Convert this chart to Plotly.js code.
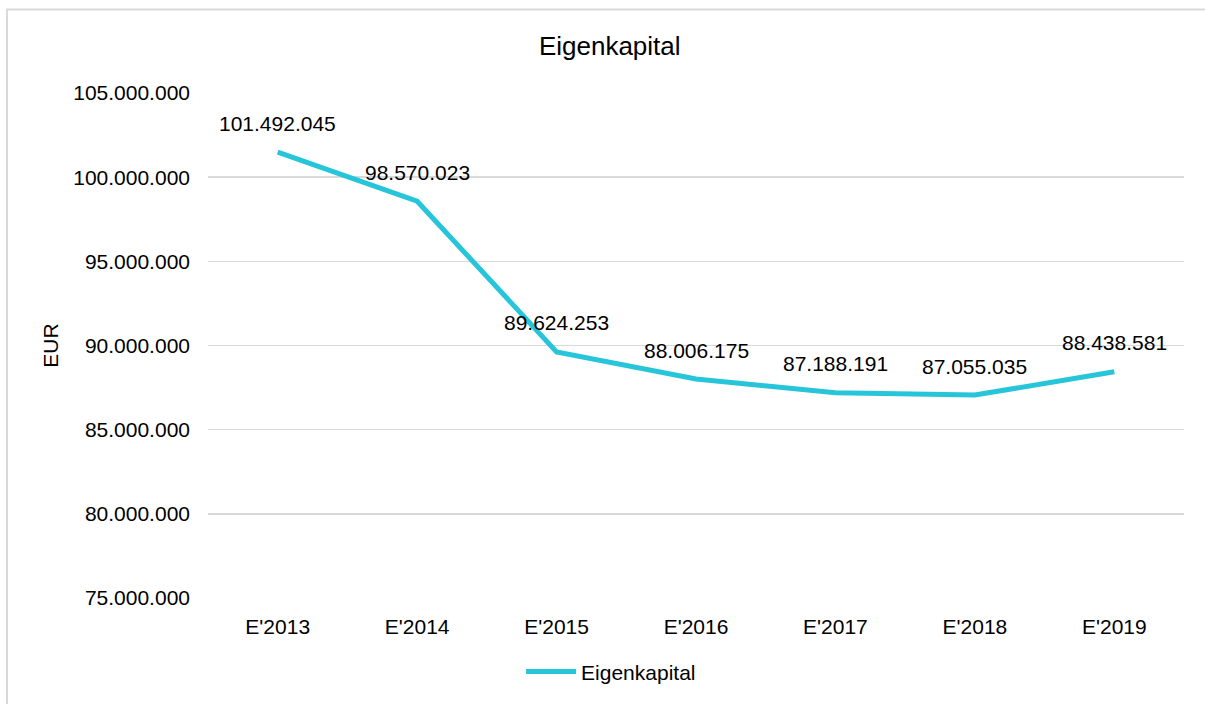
<!DOCTYPE html>
<html>
<head>
<meta charset="utf-8">
<script src="https://cdn.plot.ly/plotly-3.0.1.min.js"></script>
<style>
  html, body { margin: 0; padding: 0; background: #fff; overflow: hidden; }
  #chart { width: 1205px; height: 704px; }
</style>
</head>
<body>
<div id="chart"></div>
<script>
const categories = ["E'2013", "E'2014", "E'2015", "E'2016", "E'2017", "E'2018", "E'2019"];
const eigenkapital = [101492045, 98570023, 89624253, 88006175, 87188191, 87055035, 88438581];
const seriesName = "Eigenkapital";
const chartTitle = "Eigenkapital";
const yTitle = "EUR";

function fmt(v) {
  return String(Math.round(v)).replace(/\B(?=(\d{3})+(?!\d))/g, ".");
}

const font = "Liberation Sans, Arial, sans-serif";
const lineColor = "#27C5DA";

const annotations = categories.map((c, i) => ({
  x: c, y: eigenkapital[i], xref: "x", yref: "y",
  text: fmt(eigenkapital[i]), showarrow: false,
  yshift: 29, font: { family: font, size: 21, color: "#000" }
}));

const trace = {
  x: categories, y: eigenkapital, name: seriesName,
  type: "scatter", mode: "lines",
  line: { color: lineColor, width: 5 },
  hoverinfo: "x+y"
};

const layout = {
  width: 1205, height: 704,
  margin: { l: 208, r: 21, t: 93, b: 103 },
  paper_bgcolor: "#fff", plot_bgcolor: "#fff",
  separators: ",.",
  font: { family: font, size: 21, color: "#000" },
  title: { text: chartTitle, x: 0.506, xanchor: "center", y: 1 - 46/704, yref: "container", yanchor: "middle",
           font: { family: font, size: 26, color: "#000" } },
  xaxis: {
    type: "category", range: [-0.5, 6.5], showgrid: false, zeroline: false, showline: false,
    ticks: "", ticklabelstandoff: 14, tickfont: { size: 21 }
  },
  yaxis: {
    range: [75000000, 105000000], dtick: 5000000, tickformat: ",d",
    showgrid: true, gridcolor: "#d9d9d9", gridwidth: 1.5, zeroline: false, showline: false,
    ticks: "", ticklabelstandoff: 17, tickfont: { size: 21 },
    title: { text: yTitle, standoff: 8, font: { size: 21 } }
  },
  showlegend: true,
  legend: { orientation: "h", x: 0.413, xanchor: "center", y: -0.146, yanchor: "middle",
            font: { size: 21 }, itemwidth: 50 },
  shapes: [{
    type: "rect", xref: "paper", yref: "paper",
    x0: (7 - 208) / 976, x1: 1.3, y0: -0.3, y1: (601 - 9) / 508,
    line: { color: "#d9d9d9", width: 2 }, fillcolor: "rgba(0,0,0,0)", layer: "below"
  }],
  annotations: annotations
};

Plotly.newPlot("chart", [trace], layout, { displayModeBar: false, staticPlot: true });
</script>
</body>
</html>
